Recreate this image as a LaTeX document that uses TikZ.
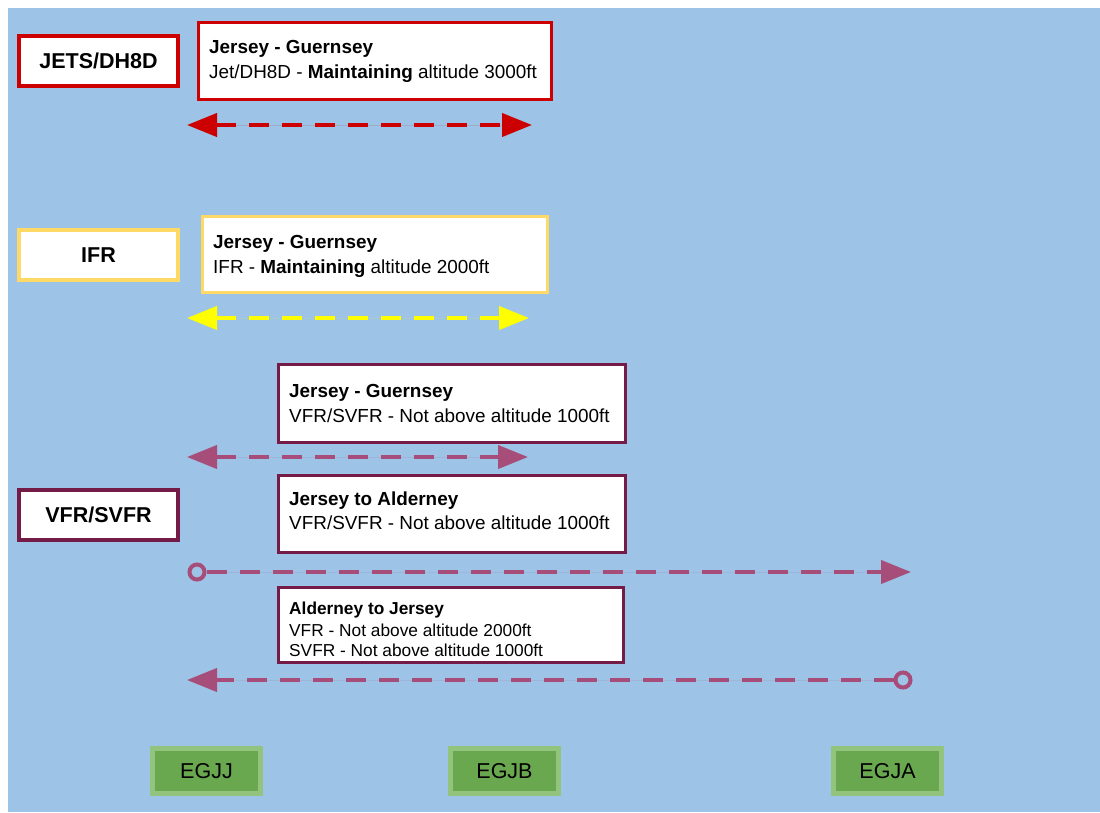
\documentclass[tikz,border=0pt]{standalone}
\usepackage{fontspec}
\setmainfont{Liberation Sans}
\usetikzlibrary{arrows.meta}
\definecolor{bgblue}{HTML}{9DC3E6}
\definecolor{jred}{HTML}{CC0000}
\definecolor{ifrborder}{HTML}{FFD966}
\definecolor{ifrarrow}{HTML}{FFFF00}
\definecolor{vfrborder}{HTML}{741B47}
\definecolor{vfrarrow}{HTML}{A64D79}
\definecolor{apfill}{HTML}{6AA84F}
\definecolor{apborder}{HTML}{93C47D}
\begin{document}
\begin{tikzpicture}[x=1pt,y=-1pt,
  catbox/.style={draw, line width=4pt, fill=white, minimum width=159pt, minimum height=50pt, inner sep=0pt,
    font=\fontsize{21.5}{24}\selectfont\bfseries},
  infobox/.style={draw, line width=3pt, fill=white, inner sep=0pt},
  infotext/.style={anchor=base west, inner sep=0pt, font=\fontsize{18.9}{22}\selectfont},
  smalltext/.style={anchor=base west, inner sep=0pt, font=\fontsize{17.3}{20}\selectfont},
  route/.style={line width=4pt, dash pattern=on 20pt off 13pt},
  tip/.style={-{Triangle[length=30pt,width=23pt]}},
  bothtips/.style={{Triangle[length=30pt,width=23pt]}-{Triangle[length=30pt,width=23pt]}},
  ring/.style={circle, draw=vfrarrow, line width=4pt, minimum size=15pt, inner sep=0pt},
  apbox/.style={draw=apborder, fill=apfill, line width=5pt, minimum width=108pt, minimum height=45pt, inner sep=0pt,
    font=\fontsize{21.5}{24}\selectfont}
]
\useasboundingbox (0,0) rectangle (1100,812);
\fill[bgblue] (8,8) rectangle (1100,812);

% category labels
\node[catbox, draw=jred] (jets) at (98.5,61) {JETS/DH8D};
\node[catbox, draw=ifrborder, line width=3.5pt] (ifr) at (98.5,255) {IFR};
\node[catbox, draw=vfrborder] (vfr) at (98.5,514.5) {VFR/SVFR};

% info boxes
\node[infobox, draw=jred, minimum width=353pt, minimum height=77pt] (b1) at (375,61) {};
\node[infotext] (b1a) at (209,53) {\bfseries Jersey - Guernsey};
\node[infotext] (b1b) at (209,78) {Jet/DH8D - \textbf{Maintaining} altitude 3000ft};

\node[infobox, draw=ifrborder, minimum width=345pt, minimum height=76pt] (b2) at (375,254.5) {};
\node[infotext] (b2a) at (213,248) {\bfseries Jersey - Guernsey};
\node[infotext] (b2b) at (213,273) {IFR - \textbf{Maintaining} altitude 2000ft};

\node[infobox, draw=vfrborder, minimum width=347pt, minimum height=78pt] (b3) at (452,403.5) {};
\node[infotext] (b3a) at (289,397) {\bfseries Jersey - Guernsey};
\node[infotext] (b3b) at (289,422) {VFR/SVFR - Not above altitude 1000ft};

\node[infobox, draw=vfrborder, minimum width=347pt, minimum height=77pt] (b4) at (452,514) {};
\node[infotext] (b4a) at (289,505) {\bfseries Jersey to Alderney};
\node[infotext] (b4b) at (289,529) {VFR/SVFR - Not above altitude 1000ft};

\node[infobox, draw=vfrborder, minimum width=345pt, minimum height=75pt] (b5) at (451,625) {};
\node[smalltext] (b5a) at (289,614) {\bfseries Alderney to Jersey};
\node[smalltext] (b5b) at (289,636) {VFR - Not above altitude 2000ft};
\node[smalltext] (b5c) at (289,656) {SVFR - Not above altitude 1000ft};

% arrows
\coordinate (r1l) at (187,125);
\coordinate (r1r) at (532,125);
\draw[route, jred, fill=jred, bothtips] (r1l) -- (r1r);

\coordinate (r2l) at (187,318);
\coordinate (r2r) at (529,318);
\draw[route, ifrarrow, fill=ifrarrow, bothtips] (r2l) -- (r2r);

\coordinate (r3l) at (187,457);
\coordinate (r3r) at (528,457);
\draw[route, vfrarrow, fill=vfrarrow, bothtips] (r3l) -- (r3r);

\node[ring] (c1) at (197,572) {};
\coordinate (r4r) at (911,572);
\draw[route, vfrarrow, fill=vfrarrow, tip] (c1.east) -- (r4r);

\node[ring] (c2) at (903,680) {};
\coordinate (r5l) at (187,680);
\draw[route, vfrarrow, fill=vfrarrow, tip] (c2.west) -- (r5l);

% airports
\node[apbox] (egjj) at (206.5,771) {EGJJ};
\node[apbox] (egjb) at (504.5,771) {EGJB};
\node[apbox] (egja) at (887.5,771) {EGJA};
\end{tikzpicture}
\end{document}
